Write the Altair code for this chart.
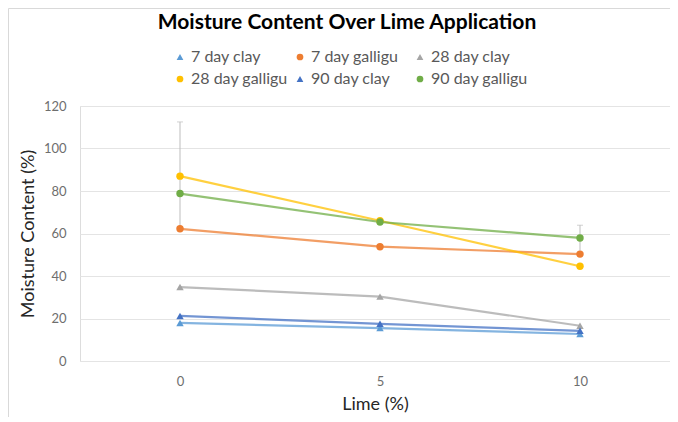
import altair as alt
import pandas as pd

lime = [0, 5, 10]
series_names = ["7 day clay", "7 day galligu", "28 day clay",
                "28 day galligu", "90 day clay", "90 day galligu"]
clay7 = [17.9, 15.5, 12.7]
galligu7 = [62.2, 53.8, 50.3]
clay28 = [34.8, 30.3, 16.6]
galligu28 = [87.0, 66.0, 44.6]
clay90 = [21.2, 17.5, 14.2]
galligu90 = [78.8, 65.4, 57.9]
colors = ["#5B9BD5", "#ED7D31", "#A5A5A5", "#FFC000", "#4472C4", "#70AD47"]
shapes = ["triangle-up", "circle", "triangle-up", "circle", "triangle-up", "circle"]

err_x = [0, 10]
err_mid = [87.0, 57.9]
err_half = [25.5, 6.0]

values = [clay7, galligu7, clay28, galligu28, clay90, galligu90]
rows = []
for name, vals in zip(series_names, values):
    for x, v in zip(lime, vals):
        rows.append({"lime": x, "series": name, "value": v})
df = pd.DataFrame(rows)

err = pd.DataFrame({"lime": err_x,
                    "lo": [m - h for m, h in zip(err_mid, err_half)],
                    "hi": [m + h for m, h in zip(err_mid, err_half)]})

FONT = "Lato"

xscale = alt.Scale(domain=[-2.5, 12.25], nice=False, zero=False)
yscale = alt.Scale(domain=[0, 120], nice=False)

color = alt.Color("series:N", scale=alt.Scale(domain=series_names, range=colors),
                  sort=series_names,
                  legend=alt.Legend(title=None, orient="none", legendX=92, legendY=-57,
                                    direction="horizontal",
                                    columns=3, gridAlign="all", columnPadding=4,
                                    rowPadding=6, labelFontSize=16, labelFont=FONT,
                                    labelColor="#595959", symbolSize=45,
                                    symbolStrokeWidth=0, labelOffset=3))
shape = alt.Shape("series:N", scale=alt.Scale(domain=series_names, range=shapes),
                  sort=series_names, legend=None)

x_enc = alt.X("lime:Q", scale=xscale,
              axis=alt.Axis(values=lime, title="Lime (%)", grid=False, domain=False,
                            ticks=False, labelPadding=14, labelFontSize=13,
                            labelColor="#6E6E6E", labelFont=FONT, titleFont=FONT,
                            titleFontSize=18, titleFontWeight="normal",
                            titleColor="#262626", titlePadding=7))
y_enc = alt.Y("value:Q", scale=yscale,
              axis=alt.Axis(values=[0, 20, 40, 60, 80, 100, 120],
                            title="Moisture Content (%)", domain=False, ticks=False,
                            gridColor="#E4E4E4", gridWidth=1, labelPadding=14,
                            labelFontSize=13, labelColor="#6E6E6E", labelFont=FONT,
                            titleFont=FONT, titleFontSize=18, titleFontWeight="normal",
                            titleColor="#262626", titlePadding=6))

base = alt.Chart(df)
lines = base.mark_line(strokeWidth=2.2, strokeOpacity=0.75).encode(
    x=x_enc, y=y_enc, color=color, detail="series:N")

errbars = alt.Chart(err).mark_rule(color="#BDBDBD", strokeWidth=1).encode(
    x=alt.X("lime:Q", scale=xscale), y=alt.Y("lo:Q", scale=yscale), y2="hi:Q")
caps = alt.Chart(err).mark_tick(color="#BDBDBD", thickness=1, size=6, orient="horizontal").encode(
    x=alt.X("lime:Q", scale=xscale), y=alt.Y("hi:Q", scale=yscale))

points = base.mark_point(filled=True, size=55, opacity=1).encode(
    x="lime:Q", y="value:Q", color=color, shape=shape)

title_df = pd.DataFrame({"t": ["Moisture Content Over Lime Application"]})
title = alt.Chart(title_df).mark_text(font=FONT, fontSize=21, fontWeight="bold",
                                      color="#000000", align="center", baseline="middle").encode(
    text="t:N", x=alt.value(267), y=alt.value(-83))

frame = alt.Chart(title_df).mark_rect(fill=None, stroke="#D9D9D9", strokeWidth=1).encode(
    x=alt.value(-71.5), y=alt.value(-97.5), x2=alt.value(700), y2=alt.value(400))

chart = alt.layer(frame, errbars, caps, lines, points, title).properties(
    width=590, height=255,
    autosize=alt.AutoSizeParams(type="none"),
    padding={"left": 72, "top": 98, "right": 0, "bottom": 56},
).configure_view(stroke=None).configure(font=FONT)

chart.save("out.html", embed_options={"renderer": "svg", "actions": False})
